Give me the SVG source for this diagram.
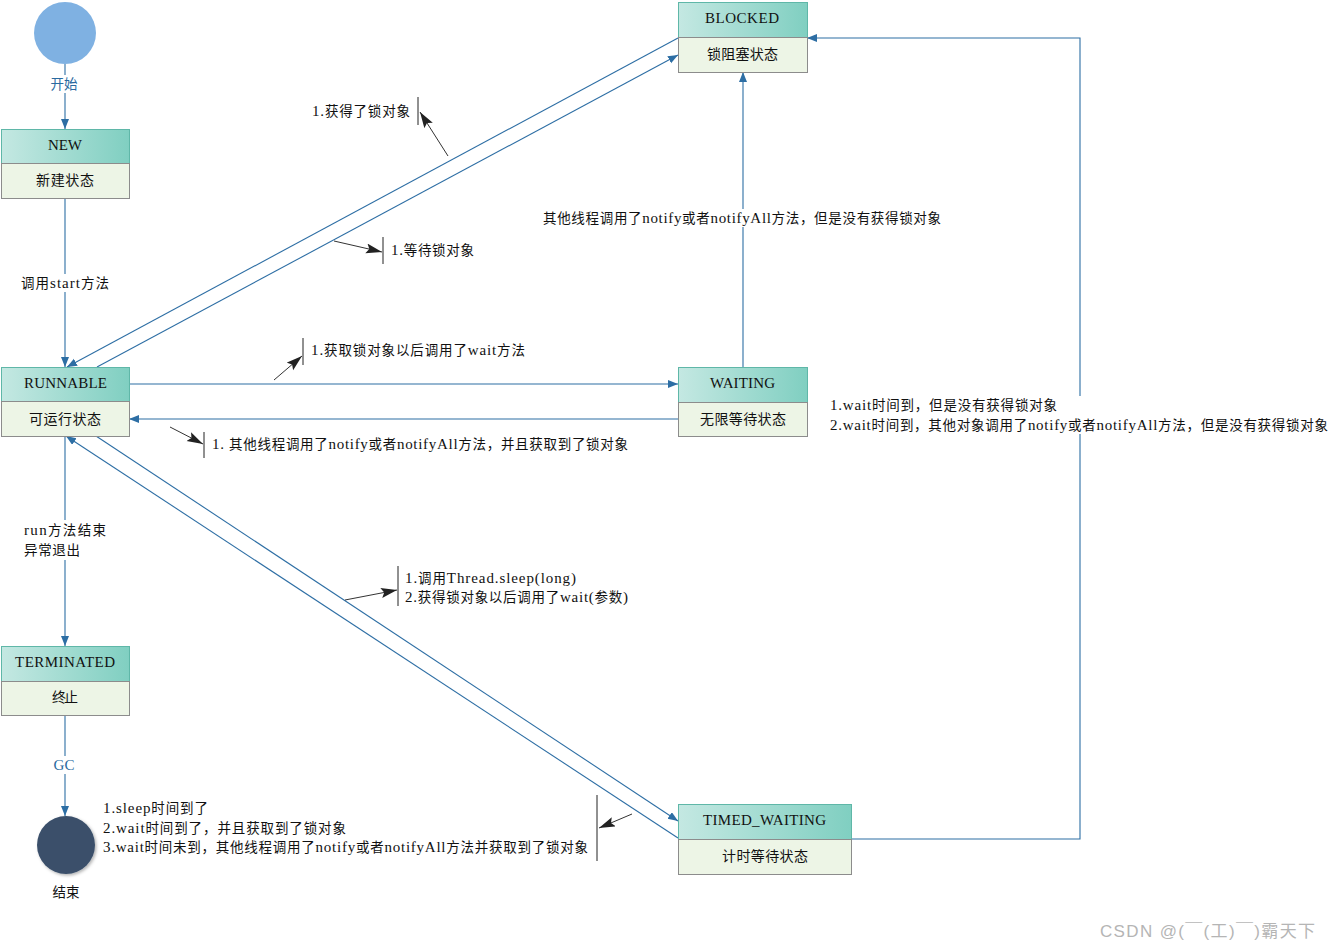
<svg xmlns="http://www.w3.org/2000/svg" width="1331" height="950" viewBox="0 0 1331 950">
<style>
text{font-family:"Liberation Serif","Noto Sans CJK SC",serif;font-size:13.5px;fill:#111;}
.c{text-anchor:middle;}
.h{font-size:15px;}
.b{font-size:14px;}
.l{font-size:15px;}
.blue{fill:#2a6aa0;}
.hd{fill:url(#hg);stroke:#5fb7a8;stroke-width:1;}
.bd{fill:#edf5e6;stroke:#8c8c8c;stroke-width:1;}
.ln{stroke:#2d6ea4;stroke-width:1.1;fill:none;}
.an{stroke:#333;stroke-width:1;fill:none;}
.tk{stroke:#222;stroke-width:1;}
.wb{fill:#fff;}
.wm{fill:#b5b5b5;font-family:"Liberation Sans","Noto Sans CJK SC",sans-serif;font-size:17px;}
</style>
<defs>
<linearGradient id="hg" x1="0" y1="0" x2="1" y2="0">
<stop offset="0" stop-color="#c4e8e2"/>
<stop offset="1" stop-color="#80cfc1"/>
</linearGradient>
<marker id="ab" markerUnits="userSpaceOnUse" markerWidth="12" markerHeight="10" refX="10" refY="4" orient="auto">
<path d="M0,0 L10,4 L0,8 z" fill="#2d6ea4"/>
</marker>
<marker id="ak" markerUnits="userSpaceOnUse" markerWidth="18" markerHeight="12" refX="16" refY="5" orient="auto">
<path d="M0,0 L16,5 L0,10 L3,5 z" fill="#222"/>
</marker>
<filter id="sh" x="-30%" y="-30%" width="160%" height="160%">
<feDropShadow dx="1.5" dy="1.5" stdDeviation="1.5" flood-color="#000" flood-opacity="0.3"/>
</filter>
</defs>
<rect width="1331" height="950" fill="#fff"/>

<g id="connectors">
<line class="ln" x1="65" y1="64" x2="65" y2="129" marker-end="url(#ab)"/>
<line class="ln" x1="65" y1="198" x2="65" y2="367" marker-end="url(#ab)"/>
<line class="ln" x1="678" y1="38" x2="67" y2="367" marker-end="url(#ab)"/>
<line class="ln" x1="97" y1="367" x2="678" y2="55" marker-end="url(#ab)"/>
<line class="ln" x1="129" y1="384" x2="678" y2="384" marker-end="url(#ab)"/>
<line class="ln" x1="678" y1="419" x2="129" y2="419" marker-end="url(#ab)"/>
<line class="ln" x1="743" y1="367" x2="743" y2="72" marker-end="url(#ab)"/>
<polyline class="ln" points="851,839 1080,839 1080,38 807,38" marker-end="url(#ab)"/>
<line class="ln" x1="96" y1="436" x2="678" y2="821" marker-end="url(#ab)"/>
<line class="ln" x1="678" y1="838" x2="66" y2="436" marker-end="url(#ab)"/>
<line class="ln" x1="65" y1="436" x2="65" y2="646" marker-end="url(#ab)"/>
<line class="ln" x1="65" y1="715" x2="65" y2="816" marker-end="url(#ab)"/>

<rect class="wb" x="48" y="75" width="34" height="18"/>
<text class="c blue" x="64" y="89">开始</text>
<rect class="wb" x="20" y="274" width="92" height="18"/>
<text x="21" y="288" textLength="88">调用<tspan class="l">start</tspan>方法</text>
<rect class="wb" x="22" y="520" width="86" height="40"/>
<text x="24" y="535" textLength="82"><tspan class="l">run</tspan>方法结束</text>
<text x="24" y="555" textLength="56">异常退出</text>
<rect class="wb" x="50" y="756" width="28" height="18"/>
<text class="c blue l" x="64" y="770">GC</text>
<rect class="wb" x="541" y="209" width="402" height="18"/>
<text x="543" y="223" textLength="398">其他线程调用了<tspan class="l">notify</tspan>或者<tspan class="l">notifyAll</tspan>方法，但是没有获得锁对象</text>
<rect class="wb" x="828" y="396" width="502" height="38"/>
<text x="830" y="410" textLength="227"><tspan class="l">1.wait</tspan>时间到，但是没有获得锁对象</text>
<text x="830" y="430" textLength="498"><tspan class="l">2.wait</tspan>时间到，其他对象调用了<tspan class="l">notify</tspan>或者<tspan class="l">notifyAll</tspan>方法，但是没有获得锁对象</text>
</g>

<g id="annotations">
<line class="tk" x1="418" y1="97" x2="418" y2="125"/>
<line class="an" x1="448" y1="156" x2="420" y2="112" marker-end="url(#ak)"/>
<text x="312" y="116" textLength="98"><tspan class="l">1.</tspan>获得了锁对象</text>
<line class="tk" x1="383" y1="237" x2="383" y2="264"/>
<line class="an" x1="334" y1="241" x2="382" y2="252" marker-end="url(#ak)"/>
<text x="391" y="255" textLength="83"><tspan class="l">1.</tspan>等待锁对象</text>
<line class="tk" x1="303" y1="338" x2="303" y2="365"/>
<line class="an" x1="274" y1="380" x2="302" y2="356" marker-end="url(#ak)"/>
<text x="311" y="355" textLength="214"><tspan class="l">1.</tspan>获取锁对象以后调用了<tspan class="l">wait</tspan>方法</text>
<line class="tk" x1="204" y1="432" x2="204" y2="458"/>
<line class="an" x1="170" y1="427" x2="203" y2="444" marker-end="url(#ak)"/>
<text x="212" y="449" textLength="416"><tspan class="l">1. </tspan>其他线程调用了<tspan class="l">notify</tspan>或者<tspan class="l">notifyAll</tspan>方法，并且获取到了锁对象</text>
<line class="tk" x1="398" y1="566" x2="398" y2="606"/>
<line class="an" x1="345" y1="600" x2="397" y2="590" marker-end="url(#ak)"/>
<text x="405" y="583" textLength="171"><tspan class="l">1.</tspan>调用<tspan class="l">Thread.sleep(long)</tspan></text>
<text x="405" y="602" textLength="223"><tspan class="l">2.</tspan>获得锁对象以后调用了<tspan class="l">wait(</tspan>参数<tspan class="l">)</tspan></text>
<line class="tk" x1="597" y1="795" x2="597" y2="861"/>
<line class="an" x1="632" y1="814" x2="599" y2="828" marker-end="url(#ak)"/>
<text x="103" y="813" textLength="105"><tspan class="l">1.sleep</tspan>时间到了</text>
<text x="103" y="833" textLength="243"><tspan class="l">2.wait</tspan>时间到了，并且获取到了锁对象</text>
<text x="103" y="852" textLength="485"><tspan class="l">3.wait</tspan>时间未到，其他线程调用了<tspan class="l">notify</tspan>或者<tspan class="l">notifyAll</tspan>方法并获取到了锁对象</text>
</g>

<g id="start">
<circle cx="65" cy="33" r="31" fill="#7fb1e2"/>
</g>
<g id="end">
<circle cx="66" cy="845" r="29" fill="#3b506b" filter="url(#sh)"/>
<text class="c" x="66" y="897">结束</text>
</g>

<g id="NEW">
<rect class="hd" x="1.5" y="129.5" width="128" height="34"/>
<rect class="bd" x="1.5" y="163.5" width="128" height="35"/>
<text class="c h" x="65" y="150" textLength="34">NEW</text>
<text class="c b" x="65" y="185" textLength="58">新建状态</text>
</g>
<g id="RUNNABLE">
<rect class="hd" x="1.5" y="367.5" width="128" height="34"/>
<rect class="bd" x="1.5" y="401.5" width="128" height="35"/>
<text class="c h" x="65.5" y="388" textLength="83">RUNNABLE</text>
<text class="c b" x="65" y="424" textLength="72">可运行状态</text>
</g>
<g id="BLOCKED">
<rect class="hd" x="678.5" y="2.5" width="129" height="35"/>
<rect class="bd" x="678.5" y="37.5" width="129" height="35"/>
<text class="c h" x="742" y="23" textLength="74">BLOCKED</text>
<text class="c b" x="742.5" y="59" textLength="71">锁阻塞状态</text>
</g>
<g id="WAITING">
<rect class="hd" x="678.5" y="367.5" width="129" height="35"/>
<rect class="bd" x="678.5" y="402.5" width="129" height="34"/>
<text class="c h" x="742.5" y="388" textLength="65">WAITING</text>
<text class="c b" x="743" y="424" textLength="86">无限等待状态</text>
</g>
<g id="TIMED_WAITING">
<rect class="hd" x="678.5" y="804.5" width="173" height="35"/>
<rect class="bd" x="678.5" y="839.5" width="173" height="35"/>
<text class="c h" x="764.5" y="825" textLength="123">TIMED_WAITING</text>
<text class="c b" x="765" y="861" textLength="86">计时等待状态</text>
</g>
<g id="TERMINATED">
<rect class="hd" x="1.5" y="646.5" width="128" height="35"/>
<rect class="bd" x="1.5" y="681.5" width="128" height="34"/>
<text class="c h" x="65" y="667" textLength="100">TERMINATED</text>
<text class="c b" x="65" y="702" textLength="26">终止</text>
</g>
<text class="wm" x="1100" y="937" textLength="215">CSDN @(￣(工)￣)霸天下</text>
</svg>
